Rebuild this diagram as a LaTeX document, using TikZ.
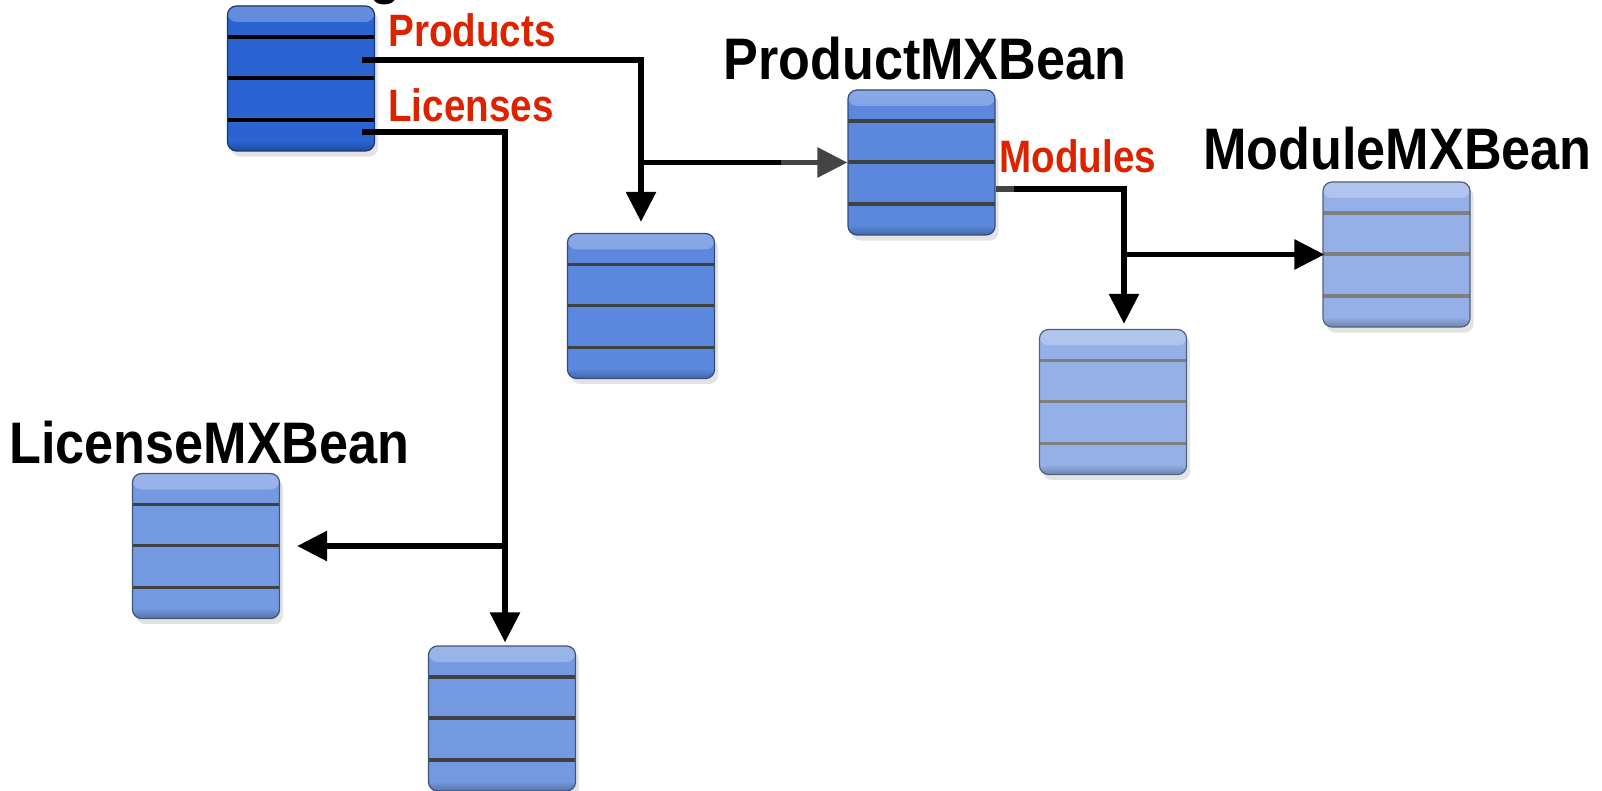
\documentclass[tikz,border=0pt]{standalone}
\usepackage{fontspec}
\setmainfont{Liberation Sans}
\usetikzlibrary{arrows.meta,shadows,calc}
\definecolor{bDark}{HTML}{2B63D2}
\definecolor{bMid}{HTML}{5B88DD}
\definecolor{bLic}{HTML}{7399E0}
\definecolor{bLight}{HTML}{94B0E6}
\definecolor{lnDark}{HTML}{404040}
\definecolor{lnGray}{HTML}{7F7F7F}
\definecolor{labred}{HTML}{DD2200}
\definecolor{arrgray}{HTML}{444444}
\tikzset{
  bean/.style 2 args={rectangle, draw=#1!55!black, line width=0.6pt, rounded corners=4.5pt,
    minimum width=73.5pt, minimum height=72.5pt, inner sep=0pt, fill=#1,
    drop shadow={shadow xshift=1.8pt, shadow yshift=-2.8pt, opacity=0.22},
    path picture={
      \shade[top color=white!28!#1, bottom color=#1]
        (path picture bounding box.north west) rectangle ([yshift=-8pt]path picture bounding box.north east);
      \shade[top color=#1, bottom color=black!25!#1]
        ([yshift=5pt]path picture bounding box.south west) rectangle (path picture bounding box.south east);
      \foreach \f in {0.214,0.497,0.786}{
        \draw[line width=1.9pt, draw=#2]
          ($(path picture bounding box.north west)!\f!(path picture bounding box.south west)$) --
          ($(path picture bounding box.north east)!\f!(path picture bounding box.south east)$);
      }
    }},
  conn/.style={line width=2.9pt, -{Triangle[width=14.5pt,length=15pt]}},
  plain/.style={line width=2.9pt},
  title/.style={font=\bfseries\fontsize{29.3pt}{32pt}\selectfont, inner sep=0pt, anchor=base west, text=black},
  rel/.style={font=\bfseries\fontsize{22.7pt}{25pt}\selectfont, inner sep=0pt, anchor=base west, text=labred}
}
\begin{document}
\begin{tikzpicture}[x=0.5pt,y=-0.5pt]
\useasboundingbox (0,0) rectangle (1602,791);

% boxes
\node[bean={bDark}{black}]   (reg)  at (301,78.5) {};
\node[bean={bMid}{lnDark}]   (p1)   at (641,306) {};
\node[bean={bMid}{lnDark}]   (prod) at (921.5,162.5) {};
\node[bean={bLight}{lnGray}] (mod)  at (1396.5,254.5) {};
\node[bean={bLight}{lnGray}] (m1)   at (1113,402) {};
\node[bean={bLic}{lnDark}]   (lic)  at (206,546) {};
\node[bean={bLic}{lnDark}]   (l1)   at (502,718.5) {};

% Products connector
\coordinate (ps) at ($(reg.north east)+(-13,55)$);
\draw[conn] (ps) -| ([yshift=5.5pt]p1.north);
\coordinate (pb) at (p1.north |- prod.west);
\coordinate (pg) at ($(prod.west)+(-66,0)$);
\draw[plain] (pb) -- (pg);
\draw[conn, draw=arrgray, fill=arrgray] (pg) -- (prod.west);

% Licenses connector
\coordinate (ls) at ($(reg.north east)+(-13,127)$);
\coordinate (lx) at ([xshift=1.5pt]l1.north);
\draw[conn] (ls) -| ([yshift=1.5pt]lx);
\draw[conn] (lx |- lic.east) -- ([xshift=8.5pt]lic.east);

% Modules connector
\coordinate (ms) at ($(prod.north east)+(0,100)$);
\coordinate (ms2) at ($(ms)+(18,0)$);
\coordinate (mx) at ([xshift=5.5pt]m1.north);
\draw[plain, draw=arrgray] (ms) -- (ms2);
\draw[conn] (ms2) -| ([yshift=2.5pt]mx);
\draw[conn] (mx |- mod.west) -- ([xshift=1pt]mod.west);

% labels
\node[title, anchor=base] (gfrag) at (385,-7) {\scalebox{0.89}[1]{g}};
\node[title] (tprod) at (723,80) {\scalebox{0.89}[1]{ProductMXBean}};
\node[title] (tmod) at (1203,170) {\scalebox{0.89}[1]{ModuleMXBean}};
\node[title] (tlic) at (9,463) {\scalebox{0.89}[1]{LicenseMXBean}};
\node[rel] (rprod) at (388,47) {\scalebox{0.85}[1]{Products}};
\node[rel] (rlic) at (388,122) {\scalebox{0.85}[1]{Licenses}};
\node[rel] (rmod) at (999,173) {\scalebox{0.85}[1]{Modules}};
\end{tikzpicture}
\end{document}
